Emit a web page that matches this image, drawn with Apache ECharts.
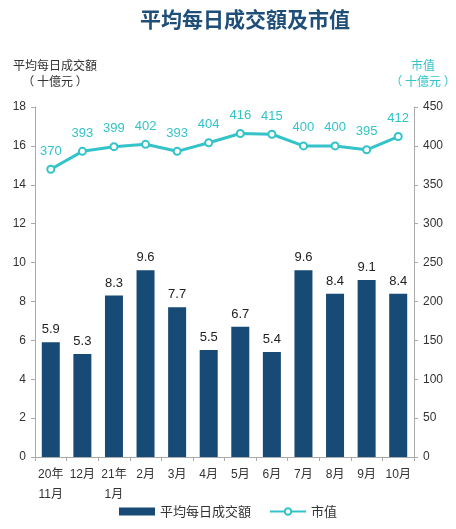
<!DOCTYPE html>
<html><head><meta charset="utf-8">
<script src="https://cdn.jsdelivr.net/npm/echarts@6/dist/echarts.min.js"></script>
<style>html,body{margin:0;padding:0;background:#fff}#c{width:456px;height:529px}</style>
</head><body><div id="c"></div>
<script>
const categories = ['20年\n11月','12月','21年\n1月','2月','3月','4月','5月','6月','7月','8月','9月','10月'];
const turnover = [5.9,5.3,8.3,9.6,7.7,5.5,6.7,5.4,9.6,8.4,9.1,8.4];
const marketCap = [370,393,399,402,393,404,416,415,400,400,395,412];
const leftAxisName = '平均每日成交額\n（ 十億元 ）';
const rightAxisName = '市值\n（ 十億元 ）';
const FONT = '"Liberation Sans", "Noto Sans CJK TC", sans-serif';
const CJK = '"Noto Sans CJK TC", sans-serif';
const navy = '#174a74', teal = '#33c3c9';
const chart = echarts.init(document.getElementById('c'));
chart.setOption({
  animation:false,
  textStyle:{fontFamily:FONT},
  title:[
    {text:'平均每日成交額及市值',left:240,top:4,textAlign:'center',textStyle:{fontFamily:CJK,fontSize:21,fontWeight:'bold',color:'#1f4e79'}},
    {text:leftAxisName,left:50,top:52,textAlign:'center',textStyle:{fontFamily:CJK,fontSize:12,fontWeight:'normal',color:'#333',lineHeight:16}},
    {text:rightAxisName,left:418,top:52,textAlign:'center',textStyle:{fontFamily:CJK,fontSize:12,fontWeight:'normal',color:teal,lineHeight:16}}
  ],
  grid:{left:35,right:42,top:107,bottom:72},
  legend:{bottom:6,left:'center',itemWidth:36,itemHeight:8,itemGap:18,textStyle:{fontSize:13,color:'#333',fontFamily:CJK},
    data:[{name:'平均每日成交額',icon:'rect'},{name:'市值'}]},
  xAxis:{type:'category',data:categories,
    axisLine:{lineStyle:{color:'#aaa'}},axisTick:{show:true,length:4,lineStyle:{color:'#aaa'}},
    axisLabel:{fontSize:12,color:'#333',lineHeight:20,margin:8,interval:0}},
  yAxis:[
    {type:'value',min:0,max:18,interval:2,
     axisLine:{show:true,lineStyle:{color:'#aaa'}},axisTick:{show:true,length:4,lineStyle:{color:'#aaa'}},
     splitLine:{show:false},axisLabel:{fontSize:12,color:'#333',margin:9}},
    {type:'value',min:0,max:450,interval:50,position:'right',
     axisLine:{show:true,lineStyle:{color:'#aaa'}},axisTick:{show:true,length:4,lineStyle:{color:'#aaa'}},
     splitLine:{show:false},axisLabel:{fontSize:12,color:'#333',margin:9}}
  ],
  series:[
    {name:'平均每日成交額',type:'bar',data:turnover,yAxisIndex:0,barWidth:18,
     itemStyle:{color:navy},
     label:{show:true,position:'top',distance:6,fontSize:13,color:'#222'}},
    {name:'市值',type:'line',data:marketCap,yAxisIndex:1,
     symbol:'circle',symbolSize:7,
     lineStyle:{color:teal,width:3},itemStyle:{color:'#fff',borderColor:teal,borderWidth:2},
     label:{show:true,position:'top',distance:7,fontSize:13,color:teal}}
  ]
});
</script></body></html>
